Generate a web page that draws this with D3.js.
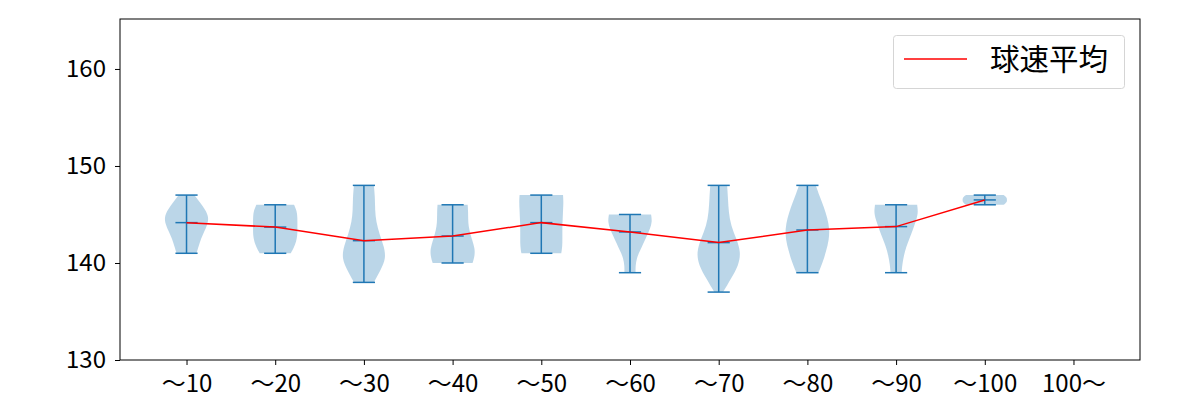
<!DOCTYPE html>
<html>
<head>
<meta charset="utf-8">
<script src="https://cdn.jsdelivr.net/npm/d3@7"></script>
<style>
  body { margin: 0; background: #fff; }
  text { font-family: "Noto Sans CJK JP", "Noto Sans", sans-serif; }
</style>
</head>
<body>
<svg id="chart" width="1200" height="400"></svg>
<script>
const categories = ['〜10', '〜20', '〜30', '〜40', '〜50', '〜60', '〜70', '〜80', '〜90', '〜100', '100〜'];
const minSpeed = [141, 141, 138, 140, 141, 139, 137, 139, 139, 146, null];
const maxSpeed = [147, 146, 148, 146, 147, 145, 148, 148, 146, 147, null];
const meanSpeed = [144.16, 143.7, 142.3, 142.78, 144.16, 143.2, 142.1, 143.4, 143.75, 146.5, null];
// relative violin widths, sampled evenly from min (first) to max (last)
const densities = [
    [0.45, 0.55, 0.65, 0.8, 0.95, 1.0, 0.85, 0.6, 0.35],
    [0.7, 0.85, 0.95, 1.0, 1.0, 1.0, 1.0, 0.97, 0.85],
    [0.45, 0.75, 1.0, 0.9, 0.7, 0.55, 0.5, 0.5, 0.45],
    [0.9, 1.0, 1.0, 0.9, 0.8, 0.72, 0.7, 0.7, 0.68],
    [0.9, 0.95, 0.95, 0.95, 0.95, 0.97, 0.98, 1.0, 0.98],
    [0.25, 0.25, 0.3, 0.45, 0.6, 0.75, 0.9, 1.0, 0.95],
    [0.2, 0.55, 0.9, 1.0, 0.8, 0.55, 0.45, 0.42, 0.38],
    [0.5, 0.7, 0.85, 0.97, 1.0, 0.9, 0.75, 0.55, 0.38],
    [0.25, 0.28, 0.35, 0.45, 0.6, 0.75, 0.88, 1.0, 0.95],
    [0.85, 1.0, 1.0, 1.0, 0.85],
    []
];
const yTicks = [130, 140, 150, 160];
const legendLabel = '球速平均';

const svg = d3.select('#chart');
const plotLeft = 120, plotRight = 1140, plotTop = 19, plotBottom = 360;
const blue = '#1f77b4';

const x = d3.scaleLinear().domain([0.25, 11.75]).range([plotLeft, plotRight]);
const y = d3.scaleLinear().domain([130, 165.15]).range([plotBottom, plotTop]);

const plot = svg.append('g');

// violins
categories.forEach((c, i) => {
    const dens = densities[i];
    if (!dens.length) return;
    const pos = i + 1;
    const lo = minSpeed[i], hi = maxSpeed[i];
    const pts = dens.map((w, k) => ({ v: lo + (hi - lo) * k / (dens.length - 1), w }));
    const area = d3.area()
        .y(d => y(d.v))
        .x0(d => x(pos - 0.25 * d.w))
        .x1(d => x(pos + 0.25 * d.w))
        .curve(d3.curveBasis);
    plot.append('path')
        .attr('d', area(pts))
        .attr('fill', blue)
        .attr('fill-opacity', 0.3);

    // stem, caps and mean bar
    plot.append('line')
        .attr('x1', x(pos)).attr('x2', x(pos))
        .attr('y1', y(lo)).attr('y2', y(hi))
        .attr('stroke', blue).attr('stroke-width', 1.5);
    [lo, hi, meanSpeed[i]].forEach(v => {
        plot.append('line')
            .attr('x1', x(pos - 0.125)).attr('x2', x(pos + 0.125))
            .attr('y1', y(v)).attr('y2', y(v))
            .attr('stroke', blue).attr('stroke-width', 1.5);
    });
});

// mean line
const meanPts = meanSpeed.map((m, i) => [i + 1, m]).filter(d => d[1] != null);
plot.append('path')
    .attr('d', d3.line().x(d => x(d[0])).y(d => y(d[1]))(meanPts))
    .attr('fill', 'none')
    .attr('stroke', 'red')
    .attr('stroke-width', 1.5);

// axes
const xAxis = svg.append('g')
    .attr('transform', `translate(0,${plotBottom})`)
    .call(d3.axisBottom(x).tickValues(d3.range(1, 12)).tickFormat(d => categories[d - 1]).tickSize(5).tickPadding(10));
const yAxis = svg.append('g')
    .attr('transform', `translate(${plotLeft},0)`)
    .call(d3.axisLeft(y).tickValues(yTicks).tickSize(5).tickPadding(9));
[xAxis, yAxis].forEach(g => {
    g.select('.domain').remove();
    g.selectAll('text').attr('font-size', 24).attr('fill', '#000')
        .style('font-family', '"Noto Sans CJK JP", sans-serif');
    g.selectAll('line').attr('stroke', '#000');
});

svg.append('rect')
    .attr('x', plotLeft).attr('y', plotTop)
    .attr('width', plotRight - plotLeft).attr('height', plotBottom - plotTop)
    .attr('fill', 'none').attr('stroke', '#000').attr('stroke-width', 1);

// legend
const lg = svg.append('g');
lg.append('rect')
    .attr('x', 893.5).attr('y', 35.5).attr('width', 231).attr('height', 53)
    .attr('rx', 3).attr('fill', '#fff').attr('fill-opacity', 0.8)
    .attr('stroke', '#d5d5d5');
lg.append('line')
    .attr('x1', 904).attr('x2', 967).attr('y1', 59).attr('y2', 59)
    .attr('stroke', 'red').attr('stroke-width', 1.5);
lg.append('text')
    .attr('x', 990).attr('y', 70)
    .attr('font-size', 29.5)
    .text(legendLabel);
</script>
</body>
</html>
